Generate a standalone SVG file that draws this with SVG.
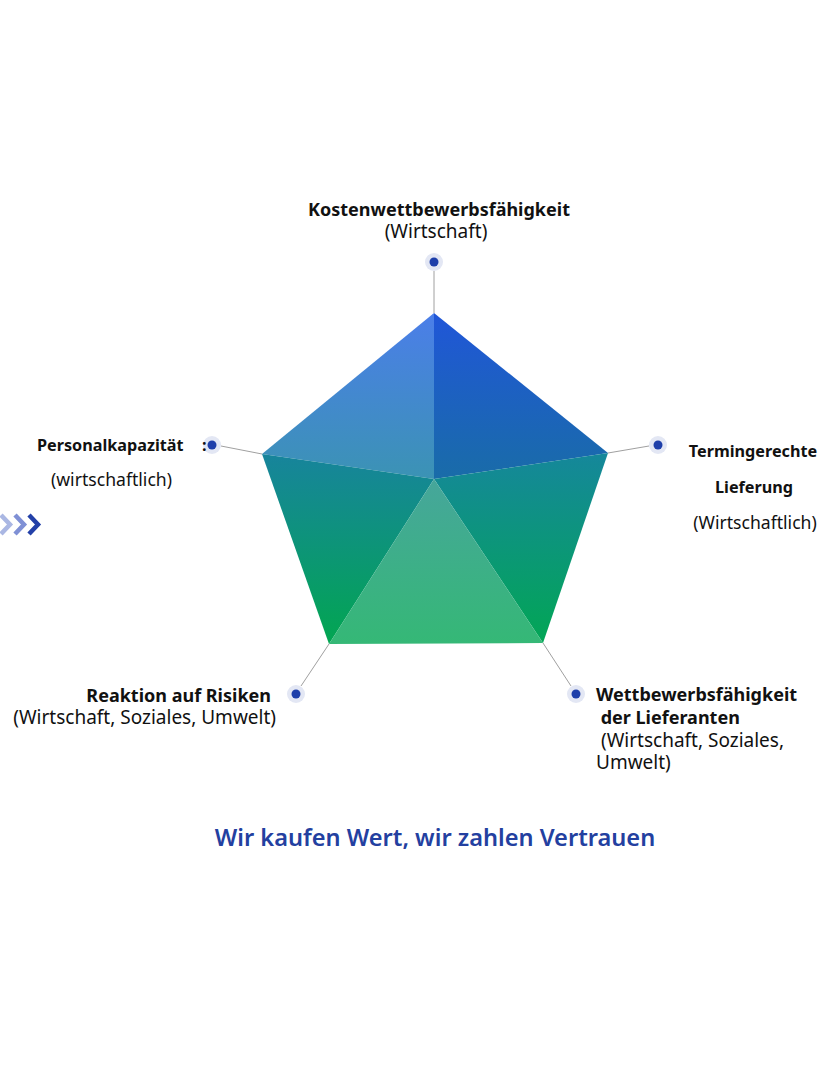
<svg xmlns="http://www.w3.org/2000/svg" width="830" height="1065" viewBox="0 0 830 1065">
<style>
.b{font-family:"Noto Sans","Liberation Sans",sans-serif;font-weight:bold;font-size:18px;fill:#111}
.r{font-family:"Noto Sans","Liberation Sans",sans-serif;font-size:19px;fill:#111}
.bs{font-family:"Noto Sans","Liberation Sans",sans-serif;font-weight:bold;font-size:16.2px;fill:#111}
.rs{font-family:"Noto Sans","Liberation Sans",sans-serif;font-size:17.6px;fill:#111}
.ln{stroke:#a0a0a0;stroke-width:1;fill:none}
.halo{fill:#e3e7f4}
.dot{fill:#1e3faa}
.chev{fill:none;stroke-width:4.5;stroke-linejoin:miter;stroke-linecap:butt}
</style>
<defs>
<linearGradient id="gTL" x1="0" y1="0" x2="0" y2="1"><stop offset="0" stop-color="#4b7ee9"/><stop offset="1" stop-color="#3b93b4"/></linearGradient>
<linearGradient id="gTR" x1="0" y1="0" x2="0" y2="1"><stop offset="0" stop-color="#2056d8"/><stop offset="1" stop-color="#196ca8"/></linearGradient>
<linearGradient id="gL" x1="0" y1="0" x2="0" y2="1"><stop offset="0" stop-color="#17849c"/><stop offset="1" stop-color="#02a651"/></linearGradient>
<linearGradient id="gR" x1="0" y1="0" x2="0" y2="1"><stop offset="0" stop-color="#15879b"/><stop offset="1" stop-color="#02a655"/></linearGradient>
<linearGradient id="gB" x1="0" y1="0" x2="0" y2="1"><stop offset="0" stop-color="#46a69b"/><stop offset="1" stop-color="#35b876"/></linearGradient>
</defs>
<rect width="830" height="1065" fill="#ffffff"/>
<g id="connectors">
<line class="ln" x1="434" y1="271" x2="434" y2="313"/>
<line class="ln" x1="221" y1="446" x2="262" y2="454"/>
<line class="ln" x1="608" y1="453" x2="649" y2="446"/>
<line class="ln" x1="329" y1="644" x2="301" y2="686"/>
<line class="ln" x1="543" y1="643" x2="571" y2="686"/>
</g>
<g id="pentagon">
<polygon points="434,313 262,454 434,479" fill="url(#gTL)"/>
<polygon points="434,313 608,453 434,479" fill="url(#gTR)"/>
<polygon points="262,454 434,479 329,644" fill="url(#gL)"/>
<polygon points="608,453 434,479 543,643" fill="url(#gR)"/>
<polygon points="434,479 329,644 543,643" fill="url(#gB)"/>
</g>
<g id="node-kosten">
<circle class="halo" cx="434" cy="262" r="9"/>
<circle class="dot" cx="434" cy="262" r="4.5"/>
<text class="b" x="439" y="216" text-anchor="middle">Kostenwettbewerbsfähigkeit</text>
<text class="r" x="436" y="238" text-anchor="middle">(Wirtschaft)</text>
</g>
<g id="node-personal">
<circle class="halo" cx="212" cy="445" r="9"/>
<circle class="dot" cx="212" cy="445" r="4.5"/>
<text class="bs" x="37" y="451">Personalkapazität</text>
<text class="bs" x="202" y="451">:</text>
<text class="rs" x="111.5" y="486" text-anchor="middle">(wirtschaftlich)</text>
</g>
<g id="node-termin">
<circle class="halo" cx="658" cy="445" r="9"/>
<circle class="dot" cx="658" cy="445" r="4.5"/>
<text class="bs" x="753" y="457" text-anchor="middle">Termingerechte</text>
<text class="bs" x="754" y="493" text-anchor="middle">Lieferung</text>
<text class="rs" x="755" y="529" text-anchor="middle">(Wirtschaftlich)</text>
</g>
<g id="node-reaktion">
<circle class="halo" cx="296" cy="694" r="9"/>
<circle class="dot" cx="296" cy="694" r="4.5"/>
<text class="b" x="271" y="702" text-anchor="end">Reaktion auf Risiken</text>
<text class="r" x="276" y="724" text-anchor="end">(Wirtschaft, Soziales, Umwelt)</text>
</g>
<g id="node-lieferanten">
<circle class="halo" cx="576" cy="694" r="9"/>
<circle class="dot" cx="576" cy="694" r="4.5"/>
<text class="b" x="596" y="701">Wettbewerbsfähigkeit</text>
<text class="b" x="596" y="724" xml:space="preserve"> der Lieferanten</text>
<text class="r" x="596" y="747" xml:space="preserve"> (Wirtschaft, Soziales,</text>
<text class="r" x="596" y="769">Umwelt)</text>
</g>
<g id="chevrons">
<polyline class="chev" stroke="#aab7e3" points="1,515 10,524.5 1,534"/>
<polyline class="chev" stroke="#7f90d5" points="15,515 24,524.5 15,534"/>
<polyline class="chev" stroke="#2340a8" points="29,515 38,524.5 29,534"/>
</g>
<g id="title">
<text x="435" y="846" text-anchor="middle" style="font-family:'Noto Sans','Liberation Sans',sans-serif;font-weight:600;font-size:23.6px;fill:#2340a0">Wir kaufen Wert, wir zahlen Vertrauen</text>
</g>
</svg>
